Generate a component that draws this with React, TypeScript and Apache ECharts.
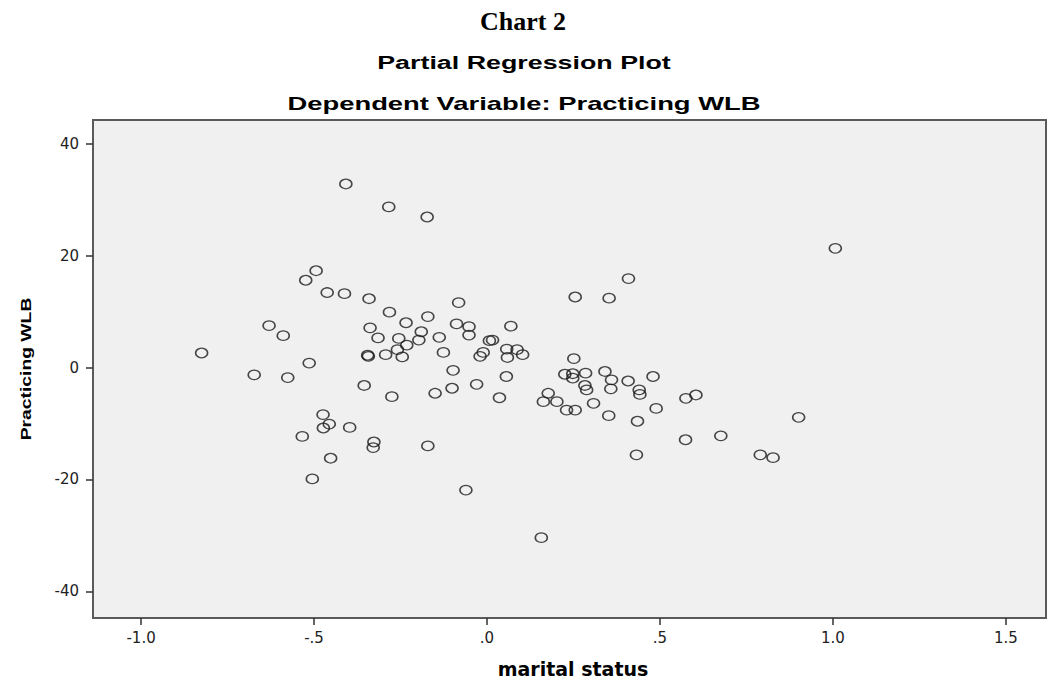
import React, { useEffect, useRef } from "react";
import * as echarts from "echarts";

// marital status (partial residual) values
const maritalStatus: number[] = [
  -0.408, -0.284, -0.173, -0.494, -0.524, -0.462, -0.412, -0.341, -0.282, -0.171,
  -0.234, -0.63, -0.589, -0.338, -0.315, -0.19, -0.197, -0.255, -0.232, -0.259,
  -0.138, -0.126, -0.825, -0.343, -0.345, -0.293, -0.245, -0.514, -0.673, -0.576,
  -0.355, -0.275, -0.15, -0.101, -0.474, -0.456, -0.473, -0.397, -0.534, -0.327,
  -0.329, -0.171, -0.452, -0.505, -0.082, -0.088, -0.052, 0.069, -0.052, 0.007,
  0.016, -0.011, -0.02, 0.057, 0.087, 0.059, 0.103, -0.098, -0.03, 0.056,
  0.036, 0.163, 0.177, 0.251, 0.225, 0.248, 0.248, 0.285, 0.341, 0.283,
  0.288, 0.36, 0.358, 0.408, 0.48, 0.44, 0.442, 0.202, 0.23, 0.255,
  0.308, 0.352, 0.435, 0.489, 0.575, 0.604, 0.574, 0.676, -0.061, 0.157,
  0.432, 0.79, 0.827, 0.409, 0.255, 0.353, 1.007, 0.901,
];

// Practicing WLB (partial residual) values
const practicingWLB: number[] = [
  32.8, 28.7, 26.9, 17.3, 15.6, 13.4, 13.2, 12.3, 9.9, 9.1,
  8.0, 7.5, 5.7, 7.1, 5.3, 6.4, 4.9, 5.2, 4.0, 3.2,
  5.4, 2.7, 2.6, 2.0, 2.2, 2.3, 1.9, 0.8, -1.3, -1.8,
  -3.2, -5.2, -4.6, -3.7, -8.4, -10.1, -10.8, -10.7, -12.3, -13.3,
  -14.3, -14.0, -16.2, -19.9, 11.6, 7.8, 7.3, 7.4, 5.8, 4.8,
  4.9, 2.7, 2.0, 3.3, 3.2, 1.8, 2.3, -0.5, -3.0, -1.6,
  -5.4, -6.1, -4.6, 1.6, -1.2, -1.1, -1.9, -1.0, -0.7, -3.2,
  -4.0, -2.2, -3.8, -2.4, -1.6, -4.0, -4.8, -6.1, -7.6, -7.6,
  -6.4, -8.6, -9.6, -7.3, -5.5, -4.9, -12.9, -12.2, -21.9, -30.4,
  -15.6, -15.6, -16.1, 15.9, 12.6, 12.4, 21.3, -8.9,
];

const xTickValues: number[] = [-1, -0.5, 0, 0.5, 1, 1.5];
const xTickLabels: string[] = ["-1.0", "-.5", ".0", ".5", "1.0", "1.5"];
const yTickValues: number[] = [-40, -20, 0, 20, 40];
const yTickLabels: string[] = ["-40", "-20", "0", "20", "40"];

const documentTitle = "Chart 2";
const chartTitle = "Partial Regression Plot";
const chartSubtitle = "Dependent Variable: Practicing WLB";
const xAxisTitle = "marital status";
const yAxisTitle = "Practicing WLB";

export default function App() {
  const ref = useRef<HTMLDivElement>(null);

  useEffect(() => {
    if (!ref.current) return;
    const chart = echarts.init(ref.current, null, { renderer: "svg" });
    const points = maritalStatus.map((x, i) => [x, practicingWLB[i]]);
    const labelFor = (vals: number[], labels: string[]) => (v: number) => {
      const idx = vals.findIndex((t) => Math.abs(t - v) < 1e-9);
      return idx >= 0 ? labels[idx] : "";
    };
    const axisColor = "#5a5a5a";
    const tickFont = { fontFamily: "DejaVu Sans", fontSize: 15, color: "#222" };

    chart.setOption({
      animation: false,
      backgroundColor: "#ffffff",
      grid: {
        left: 93,
        top: 120,
        right: 1,
        bottom: 64,
        show: true,
        backgroundColor: "#f0f0f0",
        borderColor: axisColor,
        borderWidth: 2,
        containLabel: false,
      },
      xAxis: {
        type: "value",
        min: -1.139,
        max: 1.616,
        axisLine: { show: true, onZero: false, lineStyle: { color: axisColor, width: 2 } },
        axisTick: {
          show: true,
          customValues: xTickValues,
          length: 7,
          lineStyle: { color: "#333", width: 1.5 },
        },
        axisLabel: {
          customValues: xTickValues,
          formatter: labelFor(xTickValues, xTickLabels),
          margin: 12,
          ...tickFont,
        },
        splitLine: { show: false },
      },
      yAxis: {
        type: "value",
        min: -44.75,
        max: 44.23,
        axisLine: { show: true, onZero: false, lineStyle: { color: axisColor, width: 2 } },
        axisTick: {
          show: true,
          customValues: yTickValues,
          length: 7,
          lineStyle: { color: "#333", width: 1.5 },
        },
        axisLabel: {
          customValues: yTickValues,
          formatter: labelFor(yTickValues, yTickLabels),
          margin: 14,
          ...tickFont,
        },
        splitLine: { show: false },
      },
      series: [
        {
          type: "scatter",
          data: points,
          symbol: "circle",
          symbolSize: [12, 9.5],
          itemStyle: {
            color: "rgba(0,0,0,0)",
            borderColor: "#1a1a1a",
            borderWidth: 1.4,
          },
          emphasis: { disabled: true },
        },
      ],
      graphic: [
        {
          type: "text",
          x: 523,
          y: 21,
          style: {
            text: documentTitle,
            font: "bold 26px 'Liberation Serif', 'Times New Roman', serif",
            fill: "#000",
            align: "center",
            verticalAlign: "middle",
            textAlign: "center",
            textVerticalAlign: "middle",
          },
        },
        {
          type: "text",
          x: 524,
          y: 63,
          scaleX: 1.45,
          style: {
            text: chartTitle,
            font: "bold 18.5px 'Liberation Sans', Arial, sans-serif",
            fill: "#000",
            align: "center",
            verticalAlign: "middle",
            textAlign: "center",
            textVerticalAlign: "middle",
          },
        },
        {
          type: "text",
          x: 524,
          y: 104,
          scaleX: 1.48,
          style: {
            text: chartSubtitle,
            font: "bold 18.5px 'Liberation Sans', Arial, sans-serif",
            fill: "#000",
            align: "center",
            verticalAlign: "middle",
            textAlign: "center",
            textVerticalAlign: "middle",
          },
        },
        {
          type: "text",
          x: 26,
          y: 369,
          rotation: Math.PI / 2,
          scaleX: 1.38,
          style: {
            text: yAxisTitle,
            font: "bold 14px 'Liberation Sans', Arial, sans-serif",
            fill: "#000",
            align: "center",
            verticalAlign: "middle",
            textAlign: "center",
            textVerticalAlign: "middle",
          },
        },
        {
          type: "text",
          x: 573,
          y: 669,
          style: {
            text: xAxisTitle,
            font: "bold 19px 'DejaVu Sans', Verdana, sans-serif",
            fill: "#000",
            align: "center",
            verticalAlign: "middle",
            textAlign: "center",
            textVerticalAlign: "middle",
          },
        },
      ],
    });

    return () => {
      chart.dispose();
    };
  }, []);

  return (
    <div
      ref={ref}
      style={{ position: "absolute", left: 0, top: 0, width: 1047, height: 682 }}
    />
  );
}
